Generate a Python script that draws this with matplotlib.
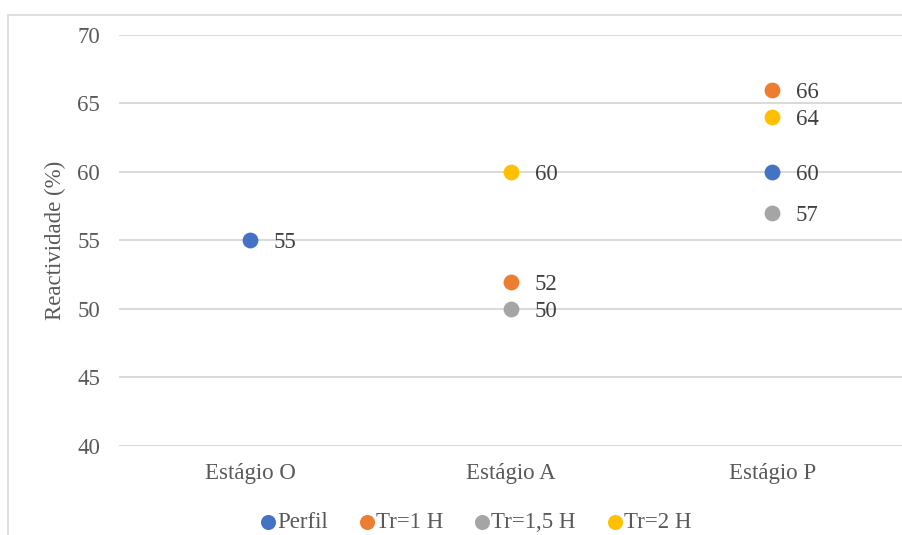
import numpy as np
import matplotlib.pyplot as plt
from matplotlib.patches import Rectangle

plt.rcParams['font.family'] = ['Liberation Serif', 'DejaVu Serif']

stages = ['Estágio O', 'Estágio A', 'Estágio P']
series = ['Perfil', 'Tr=1 H', 'Tr=1,5 H', 'Tr=2 H']
colors = ['#4472C4', '#ED7D31', '#A5A5A5', '#FFC000']

# values per series, None where a stage has no measurement
perfil = [55, None, 60]
tr_1h = [None, 52, 66]
tr_15h = [None, 50, 57]
tr_2h = [None, 60, 64]
values = [perfil, tr_1h, tr_15h, tr_2h]

fig = plt.figure(figsize=(9.03, 5.35), dpi=100)
ax = fig.add_axes([0.1323, 0.1664, 0.8677, 0.7682])

# light chart-area border
fig.patches.append(Rectangle((8 / 903, -0.1), 1.1, 1.1 - 15 / 535,
                             transform=fig.transFigure, fill=False,
                             edgecolor='#d9d9d9', linewidth=1.2))

x = np.arange(len(stages))
for name, vals, c in zip(series, values, colors):
    xs = [xi for xi, v in zip(x, vals) if v is not None]
    ys = [v for v in vals if v is not None]
    ax.scatter(xs, ys, s=130, color=c, label=name, zorder=3, linewidths=0)
    for xi, yi in zip(xs, ys):
        ax.annotate(str(yi), (xi, yi), xytext=(17, 0), textcoords='offset points',
                    va='center_baseline', ha='left', fontsize=16.5, color='#404040')

ax.set_xlim(-0.5, 2.5)
ax.set_ylim(40, 70)
ax.set_yticks(range(40, 71, 5))
ax.set_xticks(x)
ax.set_xticklabels(stages)
ax.grid(axis='y', color='#d9d9d9', linewidth=1.4)
ax.set_axisbelow(True)
for s in ax.spines.values():
    s.set_visible(False)
ax.tick_params(length=0, labelsize=16.5, colors='#595959', pad=14)
ax.tick_params(axis='x', pad=12)
ax.set_ylabel('Reactividade (%)', fontsize=16.5, color='#595959', labelpad=8)

fig.legend(loc='center', bbox_to_anchor=(0.526, 0.024), ncol=4, frameon=False,
           fontsize=16.5, labelcolor='#595959', handlelength=0.8,
           handletextpad=0.0, columnspacing=1.3, markerscale=0.95,
           scatterpoints=1)

fig.savefig('out.png', dpi=100)
